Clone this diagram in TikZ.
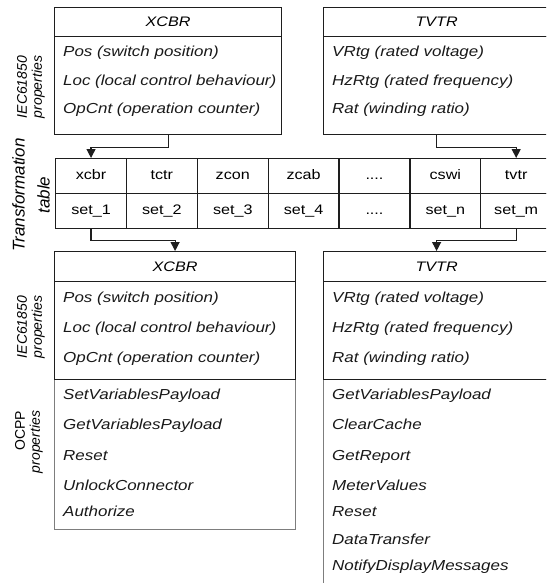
\documentclass[tikz,border=0pt]{standalone}
\usepackage{fontspec}
\setmainfont{Liberation Sans}
\newfontfamily\widesans[FakeStretch=1.17]{Liberation Sans}
\usetikzlibrary{arrows.meta}

\definecolor{edge}{RGB}{30,30,30}
\definecolor{softedge}{RGB}{125,125,125}
\newcommand\tabledots{....}

\tikzset{
  boxpart/.style={draw=edge, line width=1.2pt, rectangle, inner sep=0pt, anchor=north west},
  softpart/.style={boxpart, draw=softedge},
  headtext/.style={font=\widesans\itshape\fontsize{13.8}{16}\selectfont},
  prop/.style={anchor=base west, inner sep=0pt, font=\widesans\itshape\fontsize{14.5}{16}\selectfont, text=black!90},
  cell/.style={draw=edge, line width=1.2pt, rectangle, inner sep=0pt, anchor=north west,
    minimum width=70.86pt, minimum height=35pt, text height=10pt, text depth=2.5pt,
    font=\widesans\fontsize{13.8}{16}\selectfont},
  sidelabel/.style={rotate=90, align=right, inner sep=0pt, font=\itshape\fontsize{14}{15}\selectfont},
  conn/.style={draw=edge, line width=1.2pt, -{Triangle[width=9pt,length=9pt]}}
}

\begin{document}
\begin{tikzpicture}[x=1pt, y=-1pt]
\useasboundingbox (0,0) rectangle (546,583);
\clip (0,0) rectangle (546,583);

% ---- upper XCBR class ----
\node[boxpart, minimum width=227pt, minimum height=29pt, headtext] (hx1) at (54,7) {XCBR};
\node[boxpart, minimum width=227pt, minimum height=98pt] (px1) at (54,36) {};
\node[prop] (px1a) at (63,57) {Pos (switch position)};
\node[prop] (px1b) at (63,86) {Loc (local control behaviour)};
\node[prop] (px1c) at (63,113.5) {OpCnt (operation counter)};

% ---- upper TVTR class ----
\node[boxpart, minimum width=226pt, minimum height=29pt, headtext] (ht1) at (323,7) {TVTR};
\node[boxpart, minimum width=226pt, minimum height=98pt] (pt1) at (323,36) {};
\node[prop] (pt1a) at (332,57) {VRtg (rated voltage)};
\node[prop] (pt1b) at (332,86) {HzRtg (rated frequency)};
\node[prop] (pt1c) at (332,113.5) {Rat (winding ratio)};

% ---- transformation table ----
\foreach \i/\top/\bot in {1/xcbr/set\_1, 2/tctr/set\_2, 3/zcon/set\_3, 4/zcab/set\_4,
                         5/\tabledots/\tabledots, 6/cswi/set\_n, 7/tvtr/set\_m} {
  \node[cell] (c\i) at ({55+(\i-1)*70.86},158) {\top};
  \node[cell] (s\i) at ({55+(\i-1)*70.86},193) {\bot};
}

% ---- lower XCBR class ----
\node[softpart, minimum width=241pt, minimum height=150pt] (ox2) at (54,379) {};
\node[boxpart, minimum width=241pt, minimum height=30pt, headtext] (hx2) at (54,251) {XCBR};
\node[boxpart, minimum width=241pt, minimum height=98pt] (px2) at (54,281) {};
\node[prop] (px2a) at (63,302) {Pos (switch position)};
\node[prop] (px2b) at (63,332) {Loc (local control behaviour)};
\node[prop] (px2c) at (63,362) {OpCnt (operation counter)};
\node[prop] (ox2a) at (63,399.5) {SetVariablesPayload};
\node[prop] (ox2b) at (63,429.5) {GetVariablesPayload};
\node[prop] (ox2c) at (63,460) {Reset};
\node[prop] (ox2d) at (63,490) {UnlockConnector};
\node[prop] (ox2e) at (63,516.5) {Authorize};

% ---- lower TVTR class ----
\node[softpart, minimum width=226pt, minimum height=240pt] (ot2) at (323,379) {};
\node[boxpart, minimum width=226pt, minimum height=30pt, headtext] (ht2) at (323,251) {TVTR};
\node[boxpart, minimum width=226pt, minimum height=98pt] (pt2) at (323,281) {};
\node[prop] (pt2a) at (332,302) {VRtg (rated voltage)};
\node[prop] (pt2b) at (332,332) {HzRtg (rated frequency)};
\node[prop] (pt2c) at (332,362) {Rat (winding ratio)};
\node[prop] (ot2a) at (332,399.5) {GetVariablesPayload};
\node[prop] (ot2b) at (332,429.5) {ClearCache};
\node[prop] (ot2c) at (332,460) {GetReport};
\node[prop] (ot2d) at (332,490) {MeterValues};
\node[prop] (ot2e) at (332,516.5) {Reset};
\node[prop] (ot2f) at (332,544) {DataTransfer};
\node[prop] (ot2g) at (332,570) {NotifyDisplayMessages};

% ---- side labels ----
\node[sidelabel] (lab1) at (31,87) {IEC61850\\properties};
\node[sidelabel, align=center, font=\itshape\fontsize{17}{25}\selectfont] (lab2) at (31,195) {Transformation\\table};
\node[sidelabel] (lab3) at (31,327) {IEC61850\\properties};
\node[sidelabel] (lab4) at (29,442) {{\upshape OCPP}\\properties};

% ---- connectors ----
\draw[conn] (px1.south) -- ++(0,12) -| (c1.north);
\draw[conn] (pt1.south) -- ++(0,12) -| (c7.north);
\draw[conn] (s1.south) -- ++(0,11) -| (hx2.north);
\draw[conn] (s7.south) -- ++(0,11) -| (ht2.north);
\end{tikzpicture}
\end{document}
